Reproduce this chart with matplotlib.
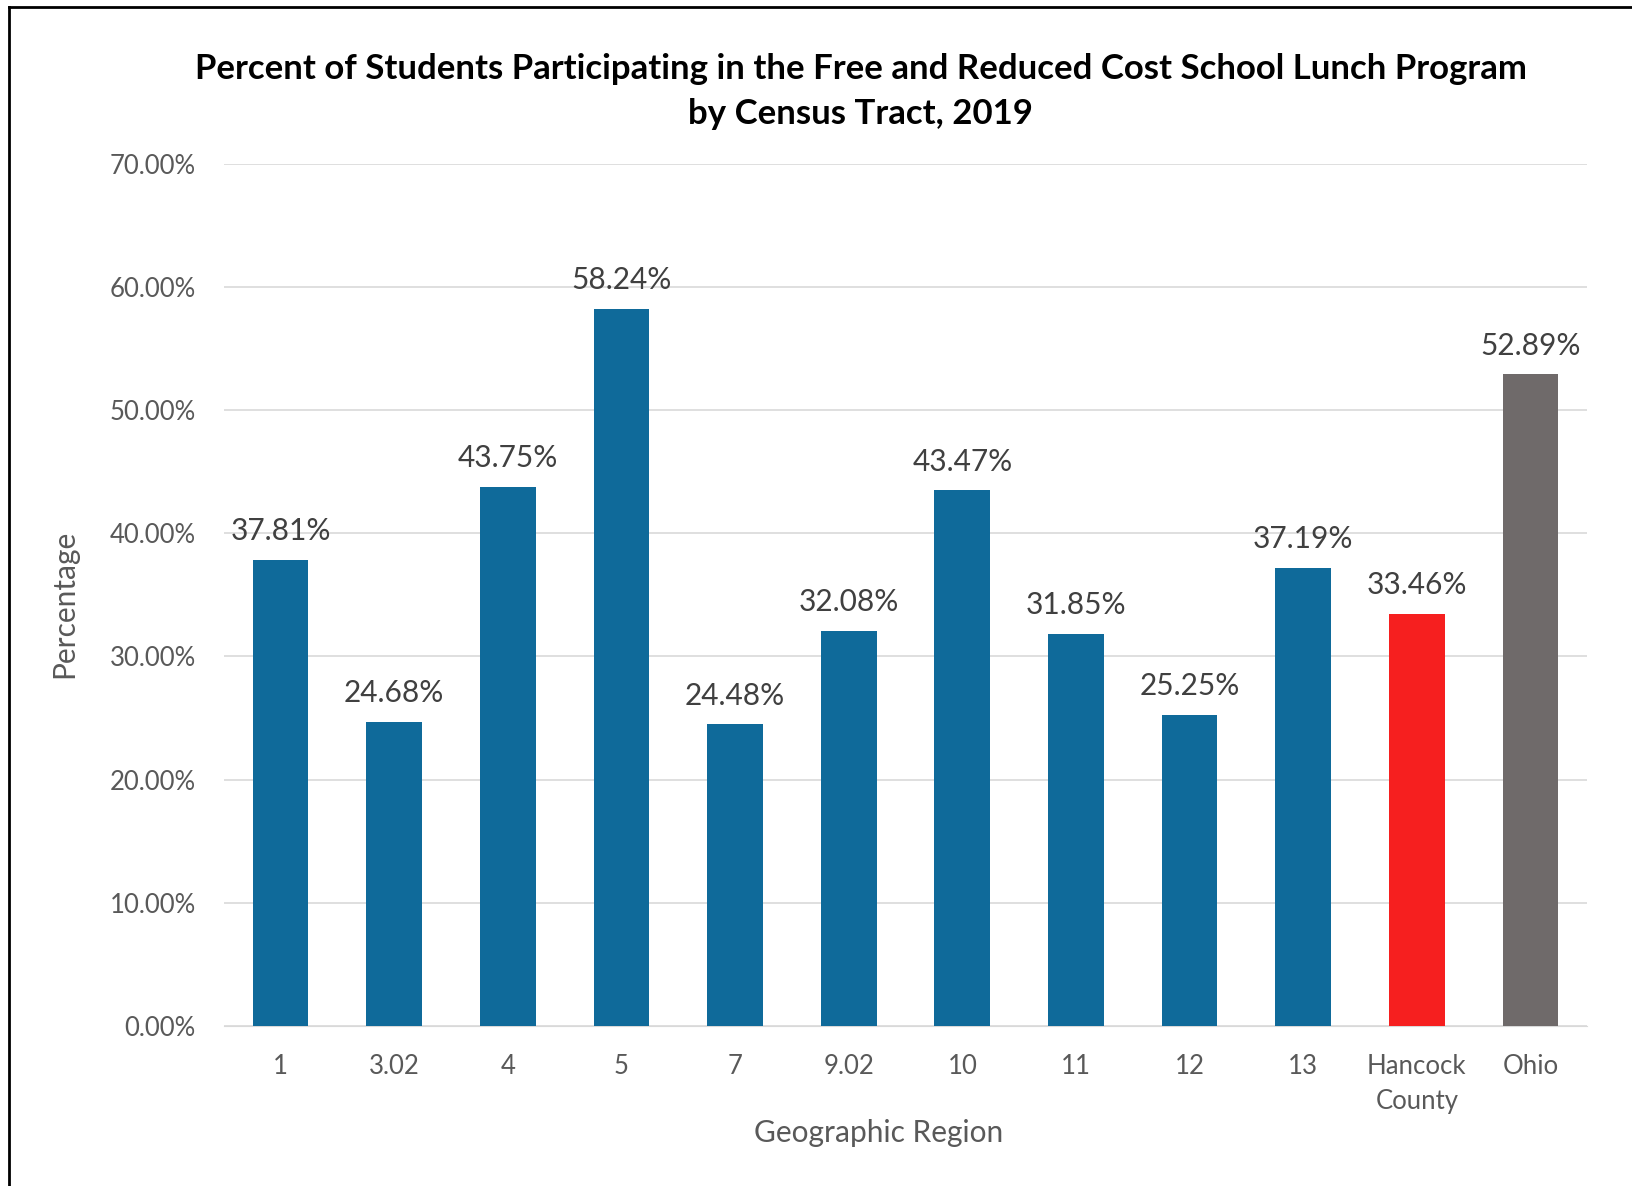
import matplotlib.pyplot as plt
from matplotlib.lines import Line2D
from matplotlib.ticker import FuncFormatter

# data
regions = ['1', '3.02', '4', '5', '7', '9.02', '10', '11', '12', '13', 'Hancock\nCounty', 'Ohio']
pct = [37.81, 24.68, 43.75, 58.24, 24.48, 32.08, 43.47, 31.85, 25.25, 37.19, 33.46, 52.89]
colors = ['#0f6a9a'] * 10 + ['#f61f1f', '#6f6a6a']

plt.rcParams['font.family'] = ['Lato', 'DejaVu Sans']

fig = plt.figure(figsize=(16.33, 11.86), dpi=100)
ax = fig.add_axes([0.137, 0.135, 0.835, 0.727])

x = range(len(regions))
bars = ax.bar(x, pct, width=0.49, color=colors, zorder=3)

for b, v in zip(bars, pct):
    ax.text(b.get_x() + b.get_width() / 2, v + 1.2, '%.2f%%' % v,
            ha='center', va='bottom', fontsize=21.5, color='#404040')

ax.set_xlim(-0.5, len(regions) - 0.5)
ax.set_ylim(0, 70)
ax.set_yticks(range(0, 71, 10))
ax.yaxis.set_major_formatter(FuncFormatter(lambda v, p: '%.2f%%' % v))
ax.set_xticks(list(x))
ax.set_xticklabels(regions, linespacing=1.5)
ax.tick_params(axis='both', length=0, labelsize=18.5, colors='#595959')
ax.tick_params(axis='x', pad=20)
ax.tick_params(axis='y', pad=20)

ax.grid(axis='y', color='#d9d9d9', linewidth=1.2, zorder=0)
for s in ['top', 'right', 'left']:
    ax.spines[s].set_visible(False)
ax.spines['bottom'].set_color('#d9d9d9')

ax.set_xlabel('Geographic Region', fontsize=21.5, color='#595959')
ax.xaxis.set_label_coords(0.48, -0.108)
ax.set_ylabel('Percentage', fontsize=21.5, color='#595959')
ax.yaxis.set_label_coords(-0.107, 0.49)

fig.text(0.527, 0.923, 'Percent of Students Participating in the Free and Reduced Cost School Lunch Program\nby Census Tract, 2019',
         ha='center', va='center', fontsize=25, fontweight='bold', color='black', linespacing=1.5)

# frame lines on left and top edges
fig.add_artist(Line2D([0.0055, 0.0055], [0, 0.994], transform=fig.transFigure, color='black', linewidth=2))
fig.add_artist(Line2D([0.0055, 1], [0.994, 0.994], transform=fig.transFigure, color='black', linewidth=2))

fig.savefig('out.png', dpi=100, facecolor='white')
